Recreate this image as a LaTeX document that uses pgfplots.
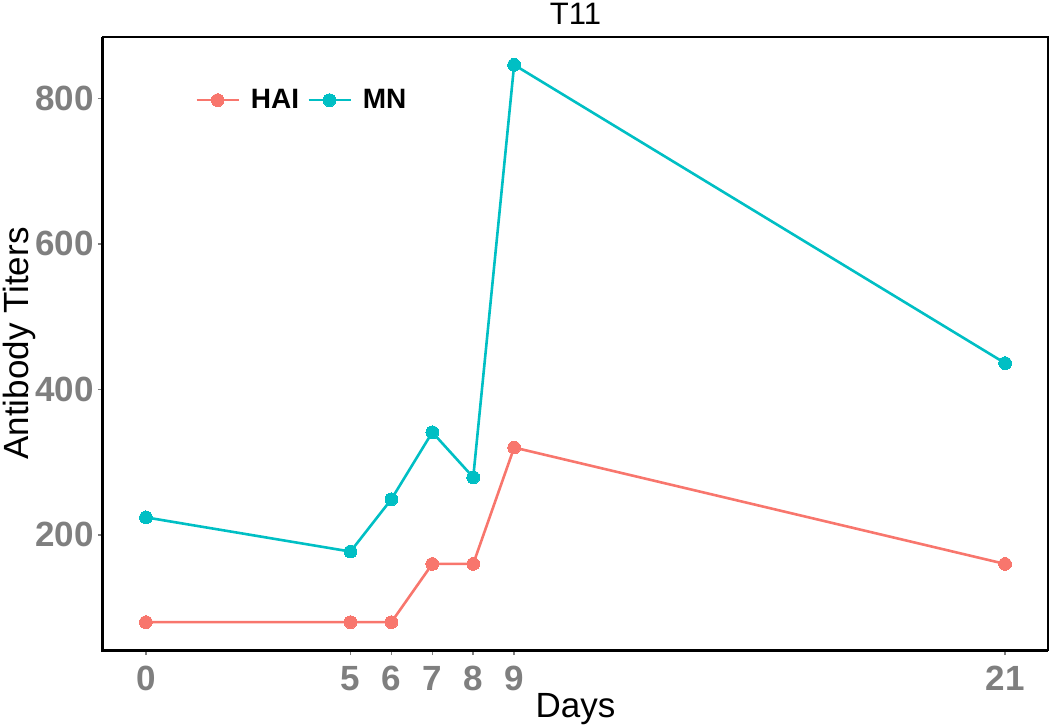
\documentclass[border=0pt]{standalone}
\usepackage{fontspec}
\setmainfont{Liberation Sans}
\usepackage{pgfplots}
\pgfplotsset{compat=1.18}
\definecolor{hai}{HTML}{F8766D}
\definecolor{mn}{HTML}{00BFC4}
\definecolor{tickgray}{HTML}{7F7F7F}
\begin{document}
\begin{tikzpicture}
\begin{axis}[name=ax, scale only axis, width=472.5pt, height=306.5pt,
  xmin=-1.05, xmax=22.05, ymin=41.7, ymax=884.3,
  xtick={0,5,6,7,8,9,21}, ytick={200,400,600,800},
  axis line style={black, line width=0.6pt},
  tick align=outside, tick pos=left, major tick length=2.5pt,
  every tick/.style={tickgray, line width=0.8pt},
  ticklabel style={font=\fontsize{17.5}{17.5}\selectfont\bfseries, text=tickgray},
  yticklabel style={xshift=1.5pt},
  xticklabel style={yshift=-2pt},
  /pgf/number format/assume math mode=true,
  clip=false,
  legend style={at={(rel axis cs:0.091,0.897)}, anchor=west, draw=none, fill=none,
    font=\fontsize{14}{14}\selectfont\bfseries, legend columns=2,
    /tikz/every even column/.append style={column sep=2pt}},
  legend image code/.code={\draw[mark repeat=2,mark phase=2,#1] plot coordinates {(0pt,0pt)(10.5pt,0pt)(21pt,0pt)};},
]
\addplot[hai, line width=1.3pt, mark=*, mark size=3.2pt, mark options={solid, fill=hai, draw=hai, line width=0pt}]
  coordinates {(0,80) (5,80) (6,80) (7,160) (8,160) (9,320) (21,160)};
\addlegendentry{\hspace{3.5pt}HAI}
\addplot[mn, line width=1.3pt, mark=*, mark size=3.2pt, mark options={solid, fill=mn, draw=mn, line width=0pt}]
  coordinates {(0,224) (5,177) (6,249) (7,341) (8,279) (9,846) (21,436)};
\addlegendentry{\hspace{3.5pt}MN}
\draw[black, line width=1.5pt] (rel axis cs:0,1) -- (rel axis cs:0,0) -- (rel axis cs:1,0);
\end{axis}
\node[rotate=90, font=\fontsize{17.5}{17.5}\selectfont] at ([xshift=-42pt]ax.west) {Antibody Titers};
\node[anchor=base, font=\fontsize{17.5}{17.5}\selectfont] at ([yshift=-34pt]ax.south) {Days};
\node[anchor=base, font=\fontsize{15.5}{15.5}\selectfont] at ([yshift=6pt]ax.north) {T11};
\pgfresetboundingbox
\path (ax.south west) ++(-51.5pt,-39pt) rectangle ([shift={(1pt,18.5pt)}]ax.north east);
\end{tikzpicture}
\end{document}
